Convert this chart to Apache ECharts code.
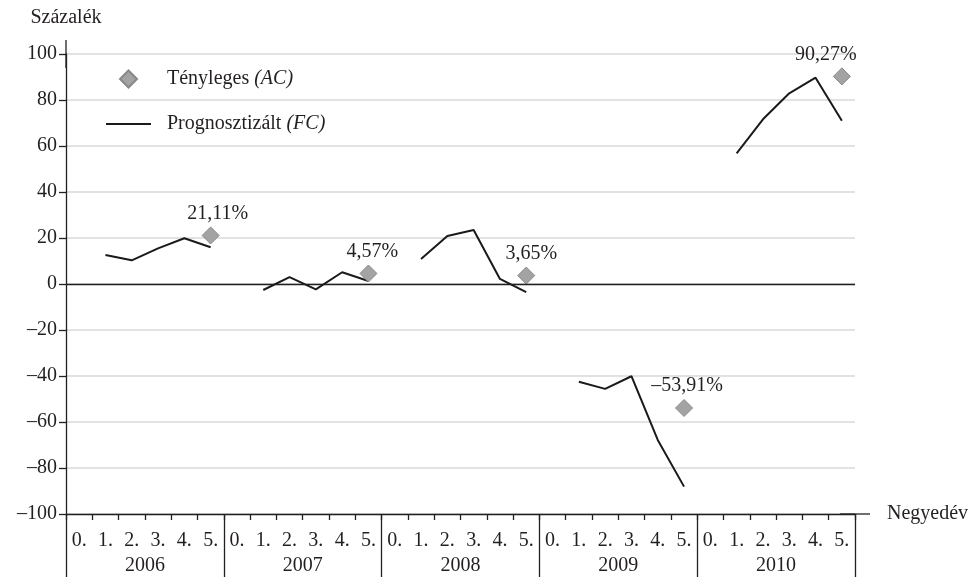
<!DOCTYPE html>
<html>
<head>
<meta charset="utf-8">
<script src="https://cdn.jsdelivr.net/npm/echarts@6/dist/echarts.min.js"></script>
<style>
  html, body { margin: 0; padding: 0; background: #fff; }
  #chart { width: 980px; height: 577px; }
</style>
</head>
<body>
<div id="chart"></div>
<script>
// negyedévek és évek
var quarters = ['0.', '1.', '2.', '3.', '4.', '5.'];
var years = ['2006', '2007', '2008', '2009', '2010'];

// prognosztizált értékek (1.-5. negyedév), évenként
var fc2006 = [12.6, 10.3, 15.5, 19.9, 16.0];
var fc2007 = [-2.6, 3.0, -2.3, 5.1, 1.3];
var fc2008 = [10.9, 20.9, 23.5, 2.2, -3.5];
var fc2009 = [-42.5, -45.6, -40.1, -67.8, -88.1];
var fc2010 = [56.8, 71.6, 82.9, 89.7, 71.0];

// tényleges értékek (5. negyedév)
var actual = [21.11, 4.57, 3.65, -53.91, 90.27];

// y tengely
var yTicks = [-100, -80, -60, -40, -20, 0, 20, 40, 60, 80, 100];

var FONT = '"Liberation Serif", "DejaVu Serif", serif';
var FS = 20;
var TXT = '#231f20';

var categories = [];
years.forEach(function () {
  quarters.forEach(function (q) { categories.push(q); });
});

var fcAll = [fc2006, fc2007, fc2008, fc2009, fc2010];
var lineData = [];
fcAll.forEach(function (arr) {
  lineData.push(null);
  arr.forEach(function (v) { lineData.push(v); });
});

// címkék vízszintes eltolása
var labelShift = [7, 4, 5, 3, -16];
var acData = actual.map(function (v, i) {
  return { value: [i * 6 + 5, v], label: { offset: [labelShift[i], 0] } };
});

function fmtNum(v) {
  var s = v.toFixed(2).replace('.', ',');
  return v < 0 ? '–' + s.slice(1) : s;
}

var chart = echarts.init(document.getElementById('chart'));

chart.setOption({
  animation: false,
  textStyle: { fontFamily: FONT, color: TXT },
  grid: { left: 66, right: 125, top: 54, bottom: 63 },
  legend: [
    {
      data: [{ name: 'Tényleges', icon: 'diamond' }],
      left: 119, top: 69, padding: 0,
      itemWidth: 17, itemHeight: 17,
      formatter: function (n) { return n + ' {i|(AC)}'; },
      textStyle: {
        fontFamily: FONT, fontSize: FS, color: TXT, padding: [0, 0, 0, 25],
        rich: { i: { fontFamily: FONT, fontSize: FS, fontStyle: 'italic', color: TXT } }
      }
    },
    {
      data: [{ name: 'Prognosztizált', icon: 'rect' }],
      left: 106, top: 114, padding: 0,
      itemWidth: 45, itemHeight: 2,
      formatter: function (n) { return n + ' {i|(FC)}'; },
      textStyle: {
        fontFamily: FONT, fontSize: FS, color: TXT, padding: [0, 0, 0, 11],
        rich: { i: { fontFamily: FONT, fontSize: FS, fontStyle: 'italic', color: TXT } }
      }
    }
  ],
  xAxis: [
    {
      type: 'category',
      data: categories,
      position: 'bottom',
      name: 'Negyedév',
      nameLocation: 'end',
      nameGap: 32,
      nameTextStyle: { fontFamily: FONT, fontSize: FS, color: TXT },
      axisLine: {
        onZero: false,
        lineStyle: { color: '#231f20', width: 1.3 },
        symbol: ['none', 'rect'],
        symbolSize: [1.3, 30]
      },
      axisTick: { show: true, interval: 0, length: 6, lineStyle: { color: '#231f20', width: 1.3 } },
      axisLabel: { interval: 0, margin: 17, fontFamily: FONT, fontSize: FS, color: TXT },
      splitLine: { show: false }
    },
    {
      type: 'category',
      data: years,
      position: 'bottom',
      axisLine: { show: false, onZero: false },
      axisTick: { show: true, interval: 0, length: 63, lineStyle: { color: '#231f20', width: 1.3 } },
      axisLabel: { interval: 0, margin: 42, fontFamily: FONT, fontSize: FS, color: TXT },
      splitLine: { show: false }
    }
  ],
  yAxis: {
    type: 'value',
    min: yTicks[0],
    max: yTicks[yTicks.length - 1],
    interval: 20,
    name: 'Százalék',
    nameLocation: 'end',
    nameGap: 26,
    nameTextStyle: { fontFamily: FONT, fontSize: FS, color: TXT },
    axisLine: {
      show: true,
      lineStyle: { color: '#231f20', width: 1.3 },
      symbol: ['none', 'rect'],
      symbolSize: [1.3, 28]
    },
    axisTick: { show: true, length: 7, lineStyle: { color: '#231f20', width: 1.3 } },
    axisLabel: {
      margin: 9, fontFamily: FONT, fontSize: FS, color: TXT,
      formatter: function (v) { return v < 0 ? '–' + Math.abs(v) : String(v); }
    },
    splitLine: { show: true, lineStyle: { color: '#d9d9d9', width: 1.5 } }
  },
  series: [
    {
      name: 'Tényleges',
      type: 'scatter',
      symbol: 'diamond',
      symbolSize: 17,
      itemStyle: { color: '#a3a3a3', borderColor: '#888888', borderWidth: 1, opacity: 1 },
      label: {
        show: true,
        position: 'top',
        distance: 3,
        fontFamily: FONT,
        fontSize: FS,
        color: TXT,
        formatter: function (p) { return fmtNum(p.value[1]) + '%'; }
      },
      data: acData,
      z: 3
    },
    {
      name: 'Prognosztizált',
      type: 'line',
      symbol: 'none',
      connectNulls: false,
      lineStyle: { color: '#1a1a1a', width: 2 },
      itemStyle: { color: '#1a1a1a' },
      data: lineData,
      markLine: {
        silent: true,
        symbol: 'none',
        label: { show: false },
        lineStyle: { color: '#231f20', width: 1.3, type: 'solid' },
        data: [{ yAxis: 0 }]
      },
      z: 2
    }
  ]
});
</script>
</body>
</html>
